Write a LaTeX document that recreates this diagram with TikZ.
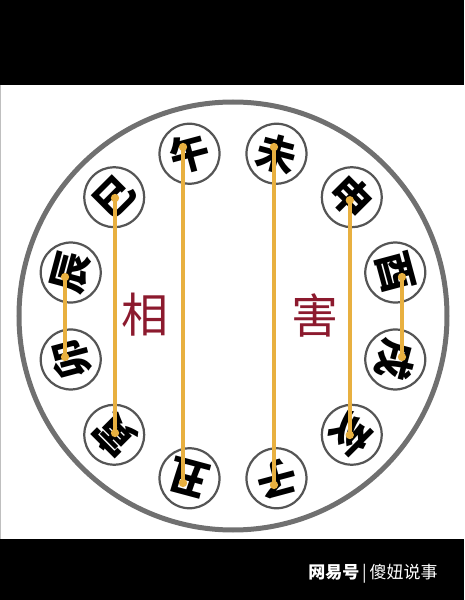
\documentclass[tikz,border=0pt]{standalone}
\usepackage{fontspec}
\newfontfamily\cjk{Noto Sans CJK SC}
\usetikzlibrary{arrows.meta}
\definecolor{ringgray}{RGB}{112,112,112}
\definecolor{dotgray}{RGB}{85,85,85}
\definecolor{linkgold}{RGB}{232,176,64}
\definecolor{wordred}{RGB}{140,26,46}

\begin{document}
\begin{tikzpicture}[x=1pt,y=1pt,
        branch/.style={draw=dotgray,line width=2.2pt,fill=white,circle,inner sep=0pt,minimum size=60pt,
            font=\cjk\bfseries\fontsize{40}{40}\selectfont},
        harm/.style={draw=linkgold,line width=4pt,{Circle[length=8pt]}-{Circle[length=8pt]},
            shorten <=-4pt,shorten >=-4pt},
        title/.style={text=wordred,font=\cjk\fontsize{47}{47}\selectfont}]

    \useasboundingbox (-233,-284) rectangle (231,316);
    \fill[black] (-233,231) rectangle (231,316);
    \fill[black] (-233,-223) rectangle (231,-284);
    \draw[gray!50,line width=1pt] (-232,231) -- (-232,-223);

    % outer ring
    \draw[ringgray,line width=5pt] (0,0) circle (214);

    % the twelve branches
    \foreach \nm/\ch/\ang/\dx/\dy in {zi/子/285/-2.5/-6.7, chou/丑/255/-6.5/-4.7,
            yin/寅/225/0.8/1.8, mao/卯/195/-5.7/2.5, chen/辰/165/-5.7/-4.5,
            si/巳/135/0.8/-0.8, wu/午/105/-6.5/6.7, wei/未/75/-2.5/6.7,
            shen/申/45/-2/-3, you/酉/15/6.7/-4.5, xu/戌/345/6.7/2.5, hai/亥/315/-2/-0.2}{
        \node[branch,rotate=\ang-90] (\nm) at (\ang:168) {\ch};
        \coordinate (\nm-dot) at ([shift={(\dx,\dy)}]\nm.center);
    }

    \node[title] (xiang) at (-88,1) {相};
    \node[title] (hurt) at (82,1) {害};

    % pairs
    \draw[harm] (chen-dot) -- (mao-dot);
    \draw[harm] (si-dot) -- (yin-dot);
    \draw[harm] (wu-dot) -- (chou-dot);
    \draw[harm] (wei-dot) -- (zi-dot);
    \draw[harm] (shen-dot) -- (hai-dot);
    \draw[harm] (you-dot) -- (xu-dot);

    \node[text=white,font=\cjk\fontsize{17}{17}\selectfont] (mark) at (140,-258) {\textbf{网易号}\,|\,傻妞说事};
\end{tikzpicture}
\end{document}
